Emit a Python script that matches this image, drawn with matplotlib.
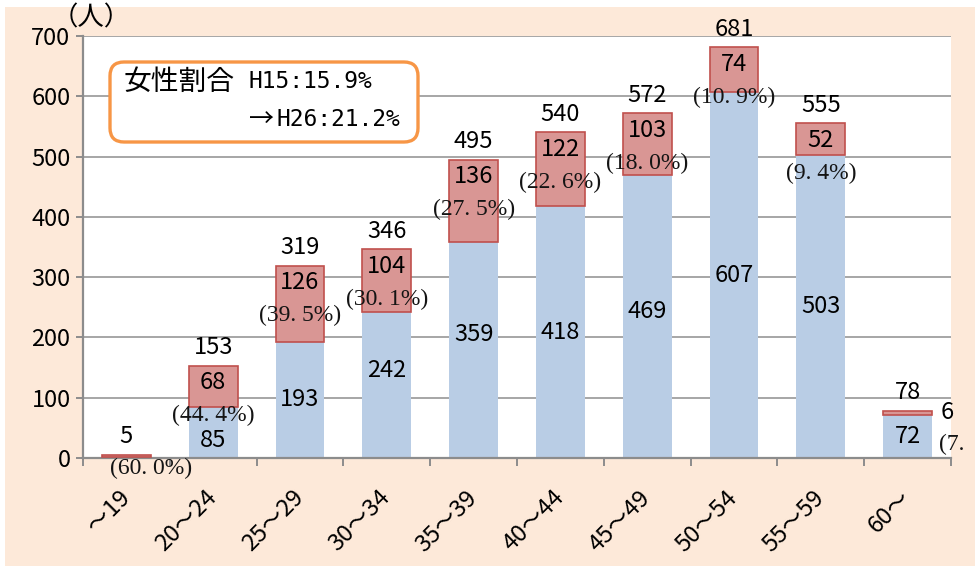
import matplotlib
matplotlib.use('Agg')
import matplotlib.pyplot as plt
from matplotlib.patches import FancyBboxPatch, Rectangle
from matplotlib.transforms import Bbox, IdentityTransform

categories = ['～19', '20～24', '25～29', '30～34', '35～39', '40～44',
              '45～49', '50～54', '55～59', '60～']
male = [2, 85, 193, 242, 359, 418, 469, 607, 503, 72]
female = [3, 68, 126, 104, 136, 122, 103, 74, 52, 6]
totals = [5, 153, 319, 346, 495, 540, 572, 681, 555, 78]
female_pct = ['60.0', '44.4', '39.5', '30.1', '27.5', '22.6', '18.0', '10.9', '9.4', '7.7']
yticks = [0, 100, 200, 300, 400, 500, 600, 700]

# small vertical nudges (pixels) of the male value labels, as in the reference layout
male_label_nudge = {1: -8, 3: 15, 4: 15, 6: 5}

SANS = ['Noto Sans CJK JP', 'DejaVu Sans']
SERIF = ['Liberation Serif', 'DejaVu Serif']
MONO = ['DejaVu Sans Mono', 'Noto Sans CJK JP']
plt.rcParams['font.family'] = SANS

NUM_FS = 17
PCT_FS = 17
PCT_COLOR = '#141414'

W, H = 975, 568
fig = plt.figure(figsize=(W / 100, H / 100), dpi=100)
fig.patch.set_facecolor('white')
fig.add_artist(Rectangle((5 / W, 2 / H), 970 / W, 559 / H, transform=fig.transFigure,
                         facecolor='#FDE9D9', edgecolor='none', zorder=-5))

ax = fig.add_axes([83 / W, 1 - 458 / H, (951 - 83) / W, (458 - 36) / H])
ax.set_facecolor('white')
ax.set_axisbelow(True)

x = list(range(len(categories)))
bw = 0.56
ax.bar(x, male, width=bw, color='#B9CDE5', edgecolor='none', zorder=2)
ax.bar(x, female, width=bw, bottom=male, color='#D99694', edgecolor='#C0504D',
       linewidth=1.2, zorder=3)

ax.set_xlim(-0.5, len(categories) - 0.5)
ax.set_ylim(0, 700)
ax.set_yticks(yticks)
ax.yaxis.grid(True, color='#A6A6A6', linewidth=1.4)
for s in ['top', 'right']:
    ax.spines[s].set_visible(False)
for s in ['left', 'bottom']:
    ax.spines[s].set_color('#8C8C8C')
    ax.spines[s].set_linewidth(1.6)
ax.tick_params(axis='y', length=5, width=1.4, color='#8C8C8C', labelsize=NUM_FS, pad=4)

# x: ticks at category boundaries, labels at centres
ax.set_xticks([i - 0.5 for i in range(len(categories) + 1)], minor=True)
ax.set_xticks(x)
ax.tick_params(axis='x', which='major', length=0, pad=26)
ax.tick_params(axis='x', which='minor', length=6, width=1.4, color='#8C8C8C')
ax.set_xticklabels(categories, rotation=45, ha='right', va='center',
                   rotation_mode='anchor', fontsize=NUM_FS)

PT = 0.72  # points per pixel
n = len(categories)


def pct_text(p):
    return '(' + p.replace('.', '. ') + '%)'


for i in range(n):
    # totals
    ax.annotate(str(totals[i]), (x[i], totals[i]), xytext=(0, 18 * PT),
                textcoords='offset points', ha='center', va='center',
                fontsize=NUM_FS, zorder=5, annotation_clip=False)
    if i == 0:
        ax.annotate(pct_text(female_pct[i]), (x[i], totals[i]),
                    xytext=(25 * PT, -13 * PT), textcoords='offset points',
                    ha='center', va='center', fontsize=PCT_FS, family=SERIF,
                    color=PCT_COLOR, zorder=5, annotation_clip=False)
        continue
    if i == n - 1:
        ax.annotate(str(female[i]), (x[i], totals[i]), xytext=(40 * PT, -2 * PT),
                    textcoords='offset points', ha='center', va='center',
                    fontsize=NUM_FS, zorder=5, annotation_clip=False)
        t = ax.annotate(pct_text(female_pct[i]), (x[i], totals[i]),
                        xytext=(31 * PT, -33 * PT), textcoords='offset points',
                        ha='left', va='center', fontsize=PCT_FS, family=SERIF,
                        color=PCT_COLOR, zorder=5, annotation_clip=False)
        t.set_clip_on(True)
        t.set_clip_box(Bbox([[0, 0], [967, H]]))
    else:
        ax.annotate(str(female[i]), (x[i], totals[i]), xytext=(0, -17 * PT),
                    textcoords='offset points', ha='center', va='center',
                    fontsize=NUM_FS, zorder=5)
        ax.annotate(pct_text(female_pct[i]), (x[i], totals[i]),
                    xytext=(0, -50 * PT), textcoords='offset points',
                    ha='center', va='center', fontsize=PCT_FS, family=SERIF,
                    color=PCT_COLOR, zorder=5)
    # male value in middle of blue segment
    ax.annotate(str(male[i]), (x[i], male[i] / 2),
                xytext=(0, male_label_nudge.get(i, 0) * PT), textcoords='offset points',
                ha='center', va='center', fontsize=NUM_FS, zorder=5)

# unit label
fig.text(91 / W, 1 - 18 / H, '（人）', ha='center', va='center', fontsize=19)

# note box
box = FancyBboxPatch((110, H - 142), 308, 80, boxstyle='round,pad=0,rounding_size=14',
                     transform=IdentityTransform(), facecolor='white',
                     edgecolor='#F79646', linewidth=2.4, zorder=10)
fig.add_artist(box)
fig.text(124 / W, 1 - 82 / H, '女性割合', ha='left', va='center', fontsize=20, zorder=11)
fig.text(249 / W, 1 - 82 / H, 'H15:15.9%', ha='left', va='center', fontsize=16.5,
         family=MONO, zorder=11)
fig.text(249 / W, 1 - 120 / H, '→', ha='left', va='center', fontsize=18,
         family=SANS, zorder=11)
fig.text(276 / W, 1 - 120 / H, 'H26:21.2%', ha='left', va='center', fontsize=16.5,
         family=MONO, zorder=11)

fig.savefig('out.png', dpi=100)
